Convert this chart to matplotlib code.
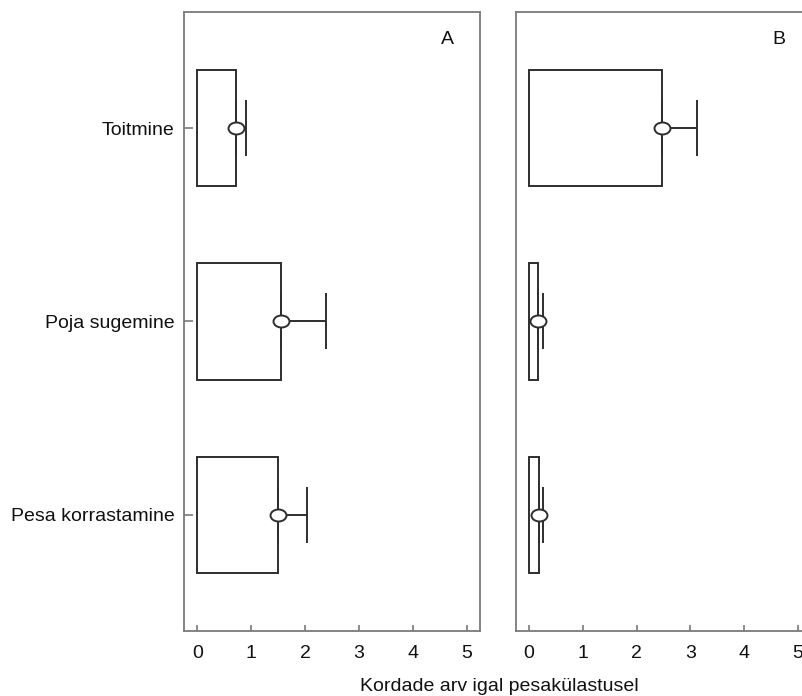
import numpy as np
import matplotlib.pyplot as plt
from matplotlib.path import Path

plt.rcParams['font.family'] = ['Liberation Sans', 'DejaVu Sans']

# Behaviours, top to bottom
behaviours = ['Toitmine', 'Poja sugemine', 'Pesa korrastamine']

# Mean number of times per nest visit, with upper error
means_a = [0.71, 1.55, 1.50]
err_a = [0.19, 0.84, 0.53]
means_b = [2.47, 0.17, 0.19]
err_b = [0.66, 0.08, 0.06]

panel_letters = ['A', 'B']
x_ticks = [0, 1, 2, 3, 4, 5]

LINE = '#2e2e2e'
SPINE = '#7a7a7a'
LW = 1.4

# slightly flattened circle for the mean markers
circ = Path.unit_circle()
ellipse = Path(circ.vertices * np.array([1.0, 0.75]), circ.codes)

fig = plt.figure(figsize=(8.02, 6.96), dpi=100)
ax_a = fig.add_axes([0.2294, 0.0934, 0.3691, 0.8894])
ax_b = fig.add_axes([0.6430, 0.0934, 0.3686, 0.8894])

y = np.arange(len(behaviours))

for ax, means, errs, letter in zip([ax_a, ax_b], [means_a, means_b],
                                   [err_a, err_b], panel_letters):
    ax.barh(y, means, height=0.6, color='white', edgecolor=LINE,
            linewidth=LW, zorder=2)
    ax.errorbar(means, y, xerr=[np.zeros(len(errs)), errs], fmt='none',
                ecolor=LINE, elinewidth=LW, capsize=20.5, capthick=LW,
                zorder=3)
    ax.plot(means, y, linestyle='none', marker=ellipse, markersize=11.5,
            markerfacecolor='white', markeredgecolor=LINE,
            markeredgewidth=LW, zorder=4)

    ax.set_xlim(-0.25, 5.25)
    ax.set_ylim(2.6, -0.6)
    ax.set_xticks(x_ticks)
    ax.tick_params(axis='x', direction='in', length=4.5, width=1.2,
                   color=SPINE, labelsize=14, pad=10, labelcolor='#111111')
    for s in ax.spines.values():
        s.set_color(SPINE)
        s.set_linewidth(1.3)
    ax.text(0.889, 0.955, letter, transform=ax.transAxes, fontsize=14,
            ha='center', va='center', color='#111111')

ax_a.set_yticks(y)
ax_a.set_yticklabels(behaviours)
ax_a.tick_params(axis='y', direction='in', length=6.5, width=1.2,
                 color=SPINE, labelsize=14, pad=7, labelcolor='#111111')
ax_b.set_yticks([])

fig.text(499 / 802, 1 - 691 / 696, 'Kordade arv igal pesakülastusel',
         ha='center', va='baseline', fontsize=14, color='#111111')

fig.savefig('out.png', dpi=100)
